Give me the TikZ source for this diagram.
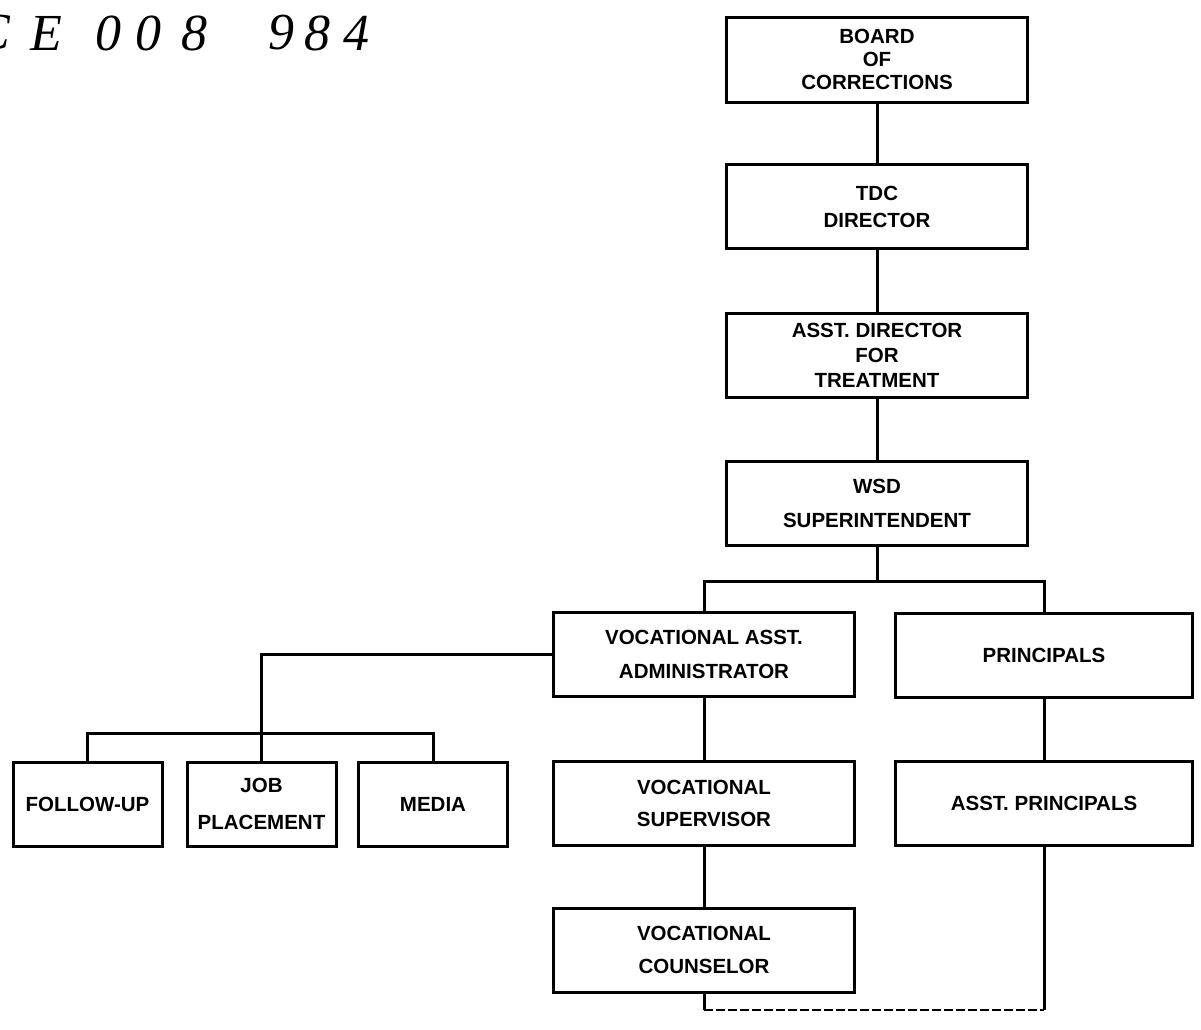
\documentclass[tikz,border=0pt]{standalone}
\usepackage{fontspec}
\setmainfont{Liberation Sans}
\newfontfamily\handfont{Liberation Serif}
\begin{document}
\begin{tikzpicture}[x=1pt,y=-1pt,
  lsp/.style={font=\bfseries\fontsize{20.5}{#1}\selectfont},
  wbox/.style={draw, line width=3pt, inner sep=0pt, align=center,
    minimum width=301pt, minimum height=84pt, lsp=25},
  sbox/.style={wbox, minimum width=149pt},
  link/.style={line width=3pt},
  hand/.style={font=\handfont\itshape\fontsize{52}{52}\selectfont, inner sep=0pt}]
\fill[white] (0,0) rectangle (1201,1029);
\useasboundingbox (0,0) rectangle (1201,1029);
\begin{scope}
\clip (0,0) rectangle (1201,1029);
\foreach \ch/\x [count=\i] in {C/-7, E/46, 0/108, 0/148, 8/194, 9/281, 8/317, 4/356}
  \node[hand] (hw\i) at (\x,33) {\ch};
\end{scope}

\node[wbox, lsp=23, minimum height=85pt] (board) at (877,59.5) {BOARD\\OF\\CORRECTIONS};
\node[wbox, lsp=27] (tdc) at (877,206.5) {TDC\\DIRECTOR};
\node[wbox, lsp=25] (asst) at (877,355.5) {ASST. DIRECTOR\\FOR\\TREATMENT};
\node[wbox, lsp=34] (wsd) at (877,503) {WSD\\SUPERINTENDENT};
\node[wbox, lsp=34] (vaa) at (704,654.5) {VOCATIONAL ASST.\\ADMINISTRATOR};
\node[wbox, minimum width=297pt] (prin) at (1044,655) {PRINCIPALS};
\node[wbox, lsp=32] (vsup) at (704,803) {VOCATIONAL\\SUPERVISOR};
\node[wbox, minimum width=297pt] (aprin) at (1044,803.5) {ASST. PRINCIPALS};
\node[wbox, lsp=33] (vcoun) at (704,950) {VOCATIONAL\\COUNSELOR};
\node[sbox] (follow) at (87.5,804) {FOLLOW-UP};
\node[sbox, lsp=37] (job) at (261.5,804) {JOB\\PLACEMENT};
\node[sbox] (media) at (433,804) {MEDIA};

\draw[link] (board) -- (tdc);
\draw[link] (tdc) -- (asst);
\draw[link] (asst) -- (wsd);
\coordinate (split) at (877,581);
\draw[link] (wsd.south) -- (split);
\draw[link] (vaa.north) |- (split) -| (prin.north);
\draw[link] (vaa) -- (vsup);
\draw[link] (vsup) -- (vcoun);
\draw[link] (prin) -- (aprin);
\draw[link] (vaa.west) -| (job.north);
\coordinate (lbar) at (261.5,733);
\draw[link] (follow.north) |- (lbar) -| (media.north);
\coordinate (bl) at (704,1010);
\coordinate (br) at (1044,1010);
\draw[link] (vcoun.south) -- (bl);
\draw[link, line width=2.4pt, dash pattern=on 9pt off 3pt] (bl) -- (br);
\draw[link] (br) -- (aprin.south);
\end{tikzpicture}
\end{document}
